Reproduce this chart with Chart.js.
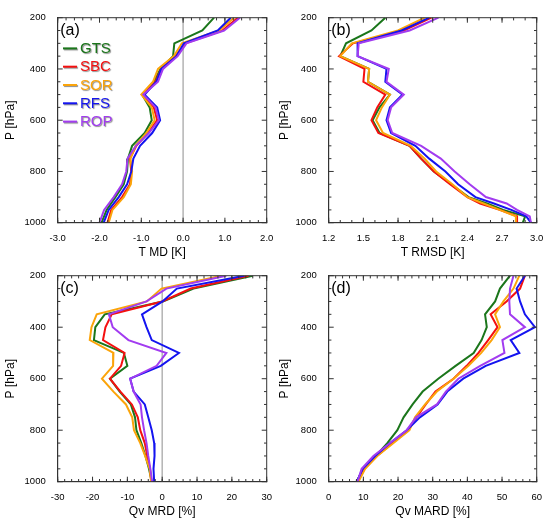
<!DOCTYPE html>
<html>
<head>
<meta charset="utf-8">
<script src="https://cdn.jsdelivr.net/npm/chart.js@4.4.1/dist/chart.umd.min.js"></script>
<style>
body { margin: 0; background: #fff; width: 550px; height: 526px; overflow: hidden; position: relative; }
canvas { position: absolute; }
</style>
</head>
<body>
<canvas id="panelA" width="290" height="268" style="left:0;top:0"></canvas>
<canvas id="panelB" width="290" height="268" style="left:270px;top:0"></canvas>
<canvas id="panelC" width="290" height="268" style="left:0;top:258px"></canvas>
<canvas id="panelD" width="290" height="268" style="left:270px;top:258px"></canvas>
<script>
// Series names and colours
const names = ['GTS', 'SBC', 'SOR', 'RFS', 'ROP'];
const colors = ['#1b761b', '#f41010', '#fba40a', '#1414f0', '#a23cf0'];

// Pressure levels [hPa]
const levels = [200, 250, 300, 350, 400, 450, 500, 550, 600, 650, 700, 750, 800, 850, 900, 950, 1000];
const levelsB = [200, 250, 300, 350, 400, 450, 500, 550, 600, 650, 700, 750, 800, 850, 900, 925, 950, 975, 1000];

// (a) T MD [K]
const tmdGTS = [0.74, 0.46, -0.21, -0.24, -0.54, -0.70, -0.98, -0.80, -0.75, -0.92, -1.22, -1.32, -1.34, -1.42, -1.62, -1.83, -1.95];
const tmdSBC = [1.31, 0.94, 0.05, -0.18, -0.52, -0.66, -0.96, -0.70, -0.62, -0.84, -1.12, -1.27, -1.24, -1.27, -1.46, -1.72, -1.81];
const tmdSOR = [1.22, 0.86, -0.03, -0.22, -0.60, -0.72, -1.00, -0.75, -0.68, -0.88, -1.14, -1.26, -1.22, -1.25, -1.42, -1.69, -1.78];
const tmdRFS = [1.14, 0.83, 0.02, -0.16, -0.52, -0.64, -0.92, -0.62, -0.55, -0.74, -1.03, -1.19, -1.24, -1.34, -1.54, -1.78, -1.90];
const tmdROP = [1.36, 0.98, 0.08, -0.13, -0.48, -0.60, -0.95, -0.66, -0.58, -0.82, -1.13, -1.33, -1.36, -1.46, -1.66, -1.89, -2.00];

// (b) T RMSD [K]
const trmsdGTS = [1.69, 1.57, 1.35, 1.30, 1.55, 1.54, 1.73, 1.64, 1.58, 1.64, 1.90, 2.00, 2.11, 2.26, 2.41, 2.57, 2.71, 2.90, 2.88];
const trmsdSBC = [2.09, 1.85, 1.41, 1.29, 1.51, 1.50, 1.69, 1.62, 1.57, 1.63, 1.90, 2.00, 2.11, 2.25, 2.40, 2.51, 2.68, 2.83, 2.83];
const trmsdSOR = [2.03, 1.80, 1.40, 1.30, 1.55, 1.54, 1.73, 1.66, 1.61, 1.67, 1.91, 2.03, 2.13, 2.27, 2.40, 2.54, 2.68, 2.82, 2.82];
const trmsdRFS = [2.07, 1.83, 1.45, 1.45, 1.70, 1.69, 1.84, 1.73, 1.70, 1.74, 1.95, 2.07, 2.21, 2.32, 2.47, 2.63, 2.78, 2.91, 2.95];
const trmsdROP = [2.15, 1.90, 1.46, 1.45, 1.72, 1.70, 1.85, 1.74, 1.71, 1.75, 2.00, 2.17, 2.29, 2.42, 2.56, 2.74, 2.83, 2.94, 2.95];

// (c) Qv MRD [%]
const qmrdGTS = [26.0, 9.0, 0.2, -16.5, -19.2, -19.6, -11.0, -10.0, -15.0, -12.2, -9.0, -7.8, -7.4, -6.0, -4.8, -3.8, -3.0];
const qmrdSBC = [24.8, 8.2, 0.0, -14.5, -16.3, -17.0, -10.8, -11.8, -15.0, -12.0, -8.7, -7.0, -6.3, -5.0, -4.3, -3.5, -3.1];
const qmrdSOR = [17.1, -0.2, -4.4, -18.8, -20.3, -20.8, -14.0, -14.1, -17.3, -14.0, -10.4, -8.6, -8.1, -6.3, -4.9, -3.6, -3.2];
const qmrdRFS = [23.6, 4.2, 0.1, -5.8, -4.5, -3.0, 4.8, -0.4, -9.2, -8.2, -5.0, -4.0, -3.0, -2.3, -2.2, -2.5, -2.3];
const qmrdROP = [18.4, 1.2, -4.5, -15.3, -14.2, -9.7, 1.2, -1.6, -9.2, -8.2, -6.2, -5.8, -5.2, -4.5, -4.0, -3.4, -2.9];

// (d) Qv MARD [%]
const qmardGTS = [52.3, 49.4, 48.0, 45.1, 45.6, 44.1, 41.8, 36.6, 31.6, 27.1, 24.2, 21.6, 19.8, 16.9, 13.6, 10.0, 8.0];
const qmardSBC = [56.6, 55.2, 51.3, 46.7, 48.7, 46.0, 43.2, 39.8, 36.0, 30.8, 28.0, 25.3, 22.8, 18.4, 13.9, 10.3, 8.3];
const qmardSOR = [55.0, 53.3, 50.4, 48.0, 49.4, 47.0, 44.0, 40.3, 36.0, 31.2, 27.8, 24.9, 23.3, 18.7, 14.0, 10.5, 8.6];
const qmardRFS = [56.6, 54.2, 55.2, 56.6, 59.5, 52.5, 55.0, 45.3, 38.8, 34.2, 31.4, 26.3, 22.5, 17.7, 13.4, 9.8, 8.1];
const qmardROP = [53.3, 52.3, 52.1, 52.3, 56.6, 50.1, 50.7, 43.7, 37.4, 33.8, 31.2, 25.2, 22.5, 17.7, 12.9, 9.5, 8.3];

const FONT = '"Liberation Sans", Arial, Helvetica, sans-serif';
const INK = '#333333';

// zero line behind the profiles
const zeroLine = {
    id: 'zeroLine',
    beforeDatasetsDraw(chart, args, opts) {
        if (!opts.show) return;
        const ctx = chart.ctx, a = chart.chartArea;
        const x0 = chart.scales.x.getPixelForValue(0);
        ctx.save();
        ctx.fillStyle = '#b4b4b4';
        ctx.fillRect(x0 - 0.75, a.top, 1.5, a.bottom - a.top);
        ctx.restore();
    }
};

// NCL-style frame: box with inward major/minor ticks on all four sides
const nclFrame = {
    id: 'nclFrame',
    afterDraw(chart, args, opts) {
        const ctx = chart.ctx, a = chart.chartArea;
        const xs = chart.scales.x, ys = chart.scales.y;
        const L = a.left, R = a.right, T = a.top, B = a.bottom;
        ctx.save();
        ctx.fillStyle = INK;
        ctx.fillRect(L - 0.5, T - 0.5, R - L + 1, 1);
        ctx.fillRect(L - 0.5, B - 0.5, R - L + 1, 1);
        ctx.fillRect(L - 0.5, T - 0.5, 1, B - T + 1);
        ctx.fillRect(R - 0.5, T - 0.5, 1, B - T + 1);

        const vTick = (px, len) => {
            ctx.fillRect(px - 0.5, B - len, 1, len);
            ctx.fillRect(px - 0.5, T, 1, len);
        };
        const hTick = (py, len) => {
            ctx.fillRect(L, py - 0.5, len, 1);
            ctx.fillRect(R - len, py - 0.5, len, 1);
        };
        const step = opts.xMinor;
        const n = Math.round((xs.max - xs.min) / step);
        for (let k = 0; k <= n; k++) vTick(xs.getPixelForValue(xs.min + k * step), 2.7);
        xs.ticks.forEach(t => vTick(xs.getPixelForValue(t.value), 5));
        for (let v = 200; v <= 1000; v += 50) hTick(ys.getPixelForValue(v), v % 200 === 0 ? 5 : 2.7);
        ctx.restore();
    }
};

// panel tag and (optionally) the shadowed series legend
const panelText = {
    id: 'panelText',
    afterDatasetsDraw(chart, args, opts) {
        const ctx = chart.ctx, a = chart.chartArea;
        ctx.save();
        ctx.fillStyle = '#000';
        ctx.font = '16px ' + FONT;
        ctx.textBaseline = 'middle';
        ctx.fillText(opts.tag, a.left + 2.5, a.top + 12.5);
        if (opts.legend) {
            ctx.font = '15px ' + FONT;
            ctx.shadowColor = 'rgba(0,0,0,0.45)';
            ctx.shadowOffsetX = 1;
            ctx.shadowOffsetY = 1;
            ctx.shadowBlur = 1;
            names.forEach((n, i) => {
                const y = a.top + 30.7 + i * 18.3;
                const x = a.left + 5.3;
                ctx.fillStyle = colors[i];
                ctx.fillRect(x, y - 1, 14, 2);
                ctx.fillText(n, x + 17, y + 0.5);
            });
        }
        ctx.restore();
    }
};

function makePanel(id, cfg) {
    const datasets = names.map((n, i) => ({
        label: n,
        data: cfg.lev.map((p, k) => ({ x: cfg.series[i][k], y: p })),
        borderColor: colors[i],
        backgroundColor: colors[i],
        borderWidth: 2,
        pointRadius: 0,
        showLine: true,
        fill: false,
        tension: 0,
        order: names.length - i
    }));

    return new Chart(document.getElementById(id), {
        type: 'scatter',
        data: { datasets },
        options: {
            responsive: false,
            animation: false,
            events: [],
            layout: { padding: { left: 0, top: cfg.top, right: 23.3, bottom: cfg.bottom } },
            plugins: {
                legend: { display: false },
                tooltip: { enabled: false },
                zeroLine: { show: cfg.zero },
                nclFrame: { xMinor: cfg.xMinor },
                panelText: { tag: cfg.tag, legend: cfg.legend }
            },
            scales: {
                x: {
                    type: 'linear',
                    min: cfg.xMin,
                    max: cfg.xMax,
                    grid: { display: false, drawTicks: false },
                    border: { display: true, color: INK, width: 1 },
                    ticks: {
                        stepSize: cfg.xStep,
                        autoSkip: false,
                        maxRotation: 0,
                        padding: 10,
                        color: '#000',
                        font: { size: 9.5, family: FONT },
                        callback: v => v.toFixed(cfg.xDec)
                    },
                    title: { display: true, text: cfg.xTitle, color: '#000', padding: 0, font: { size: 12, family: FONT } },
                    afterFit: s => { s.height = 37; }
                },
                y: {
                    type: 'linear',
                    reverse: true,
                    min: 200,
                    max: 1000,
                    grid: { display: false, drawTicks: false },
                    border: { display: true, color: INK, width: 1 },
                    ticks: {
                        stepSize: 200,
                        padding: 12,
                        color: '#000',
                        font: { size: 9.5, family: FONT },
                        callback: v => String(v)
                    },
                    title: { display: true, text: 'P [hPa]', color: '#000', padding: { top: cfg.yTitlePad, bottom: 0 }, font: { size: 12, family: FONT } },
                    afterFit: s => { s.width = cfg.yWidth; }
                }
            }
        },
        plugins: [zeroLine, panelText, nclFrame]
    });
}

makePanel('panelA', {
    lev: levels, series: [tmdGTS, tmdSBC, tmdSOR, tmdRFS, tmdROP],
    xMin: -3, xMax: 2, xStep: 1, xMinor: 0.2, xDec: 1, xTitle: 'T MD [K]',
    zero: true, tag: '(a)', legend: true,
    top: 14.3, bottom: 8.3, yWidth: 57.7, yTitlePad: 3
});
makePanel('panelB', {
    lev: levelsB, series: [trmsdGTS, trmsdSBC, trmsdSOR, trmsdRFS, trmsdROP],
    xMin: 1.2, xMax: 3.0, xStep: 0.3, xMinor: 0.1, xDec: 1, xTitle: 'T RMSD [K]',
    zero: false, tag: '(b)', legend: false,
    top: 14.3, bottom: 8.3, yWidth: 58.7, yTitlePad: 7
});
makePanel('panelC', {
    lev: levels, series: [qmrdGTS, qmrdSBC, qmrdSOR, qmrdRFS, qmrdROP],
    xMin: -30, xMax: 30, xStep: 10, xMinor: 2, xDec: 0, xTitle: 'Qv MRD [%]',
    zero: true, tag: '(c)', legend: false,
    top: 13, bottom: 7.3, yWidth: 57.7, yTitlePad: 3
});
makePanel('panelD', {
    lev: levels, series: [qmardGTS, qmardSBC, qmardSOR, qmardRFS, qmardROP],
    xMin: 0, xMax: 60, xStep: 10, xMinor: 2, xDec: 0, xTitle: 'Qv MARD [%]',
    zero: false, tag: '(d)', legend: false,
    top: 13, bottom: 7.3, yWidth: 58.7, yTitlePad: 7
});
</script>
</body>
</html>
